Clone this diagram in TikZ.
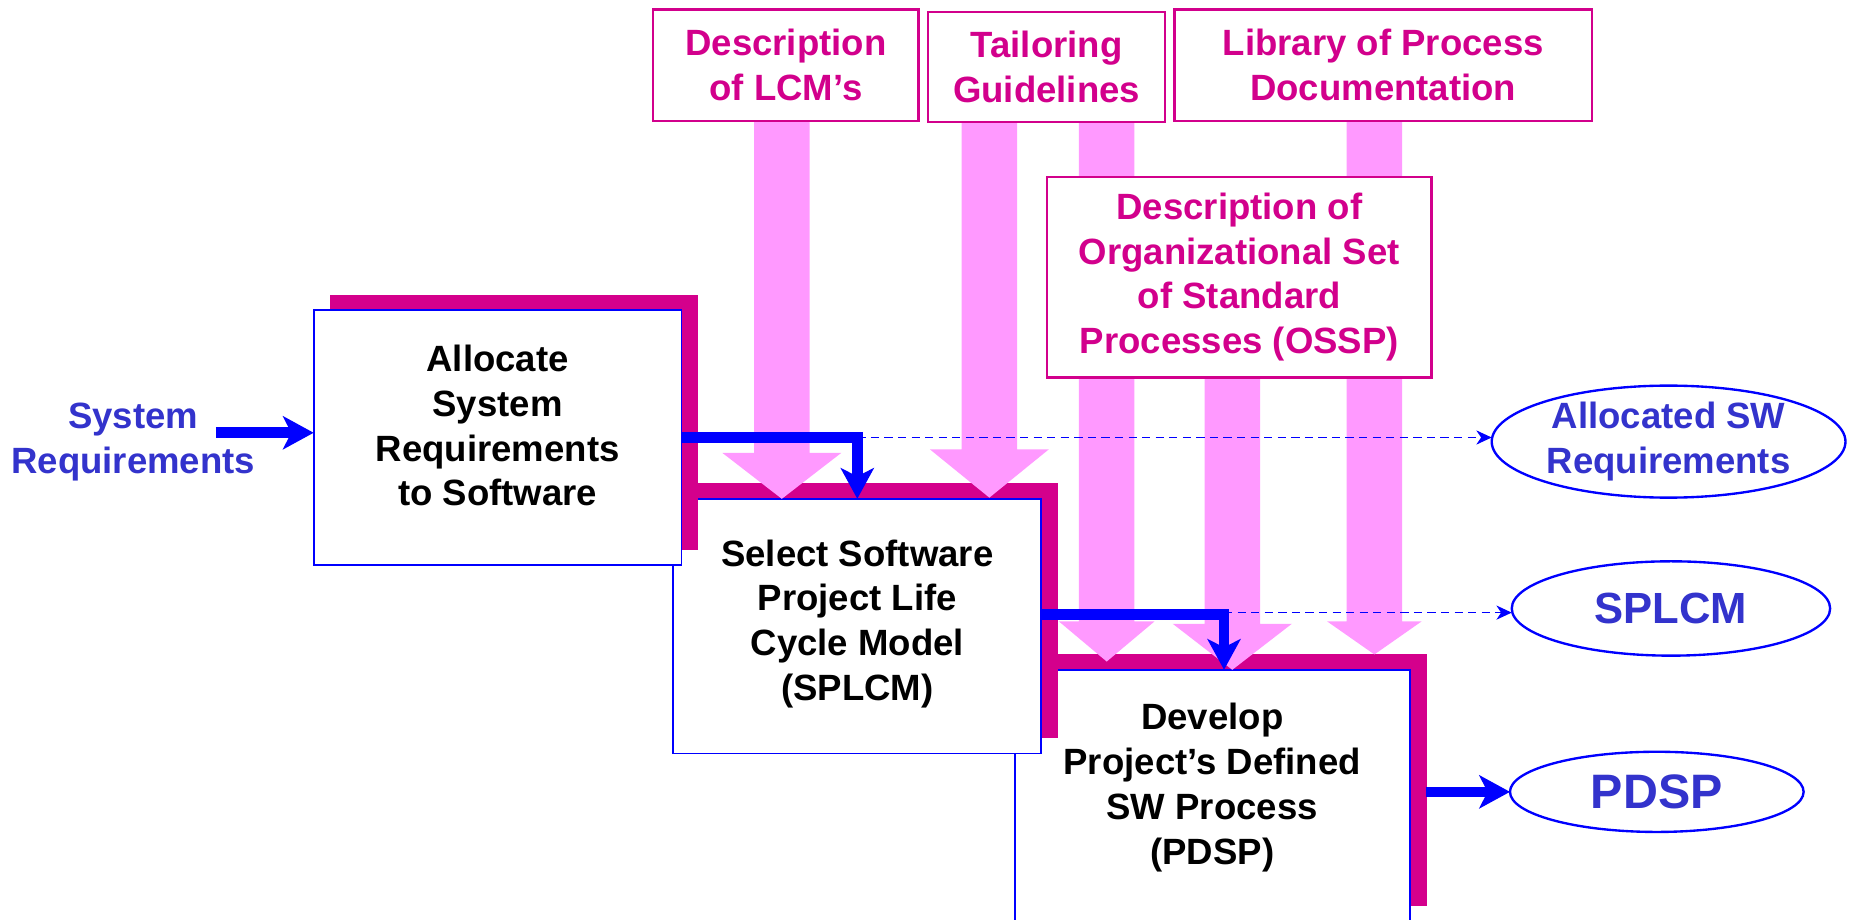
\documentclass[tikz,border=0pt]{standalone}
\usepackage{fontspec}
\setmainfont{Liberation Sans}
\usetikzlibrary{arrows.meta,shapes.geometric,calc}

\definecolor{shadowmag}{RGB}{212,0,140}
\definecolor{inkmag}{RGB}{210,0,140}
\definecolor{pinkfill}{RGB}{255,153,255}
\definecolor{lineblue}{RGB}{0,0,255}
\definecolor{textblue}{RGB}{51,51,204}

% fat pink arrow: x, top y, base of head, tip y, half width of head
\newcommand\fatarrow[5]{%
  \fill[pinkfill] (#1-23.5,#2) -- (#1+23.5,#2) -- (#1+23.5,#3) -- (#1+#5,#3)
    -- (#1,#4) -- (#1-#5,#3) -- (#1-23.5,#3) -- cycle;}

\begin{document}
\begin{tikzpicture}[x=1pt,y=-1pt,
  body/.style={font=\fontsize{31}{38}\selectfont\bfseries, align=center, inner sep=0pt},
  procbox/.style={draw=lineblue, line width=1.5pt, fill=white, inner sep=0pt,
    outer sep=0pt, minimum height=216pt},
  inputbox/.style={draw=inkmag, line width=2pt, fill=white, inner sep=0pt,
    outer sep=0pt, body, text=inkmag},
  outell/.style={ellipse, draw=lineblue, line width=2pt, fill=white, inner sep=0pt,
    outer sep=0pt, body, text=textblue},
  flow/.style={draw=lineblue, line width=9pt,
    -{Stealth[length=26pt,width=28pt,inset=7pt]}},
  dataflow/.style={draw=lineblue, line width=1.5pt, dash pattern=on 7pt off 4.5pt,
    -{Stealth[length=13pt,width=12pt,inset=4pt]}},
  boxshadow/.style={fill=shadowmag}
]
\useasboundingbox (0,0) rectangle (1568,780);

% process boxes with their offset shadows (last one drawn lies on top)
\node[procbox, minimum width=335pt, minimum height=213pt] (b3) at (1028.5,674.5) {};
\fill[boxshadow] ($(b3.south west)+(14,-13)$) rectangle ($(b3.north east)+(14,-13)$);
\node[procbox, minimum width=335pt, minimum height=213pt] at (b3) {};

\node[procbox, minimum width=312pt] (b2) at (727,531) {};
\fill[boxshadow] ($(b2.south west)+(14,-13)$) rectangle ($(b2.north east)+(14,-13)$);
\node[procbox, minimum width=312pt] at (b2) {};

\node[procbox, minimum width=312pt] (b1) at (422,371) {};
\fill[boxshadow] ($(b1.south west)+(14,-13)$) rectangle ($(b1.north east)+(14,-13)$);
\node[procbox, minimum width=312pt] at (b1) {};

\node[body] (b1t) at (422,361) {Allocate\\System\\Requirements\\to Software};
\node[body] (b2t) at (727,529) {Select Software\\Project Life\\Cycle Model\\(SPLCM)};
\node[body] (b3t) at (1028,668) {Develop\\Project’s Defined\\SW Process\\(PDSP)};

% guidance arrows
\fatarrow{663}{102.5}{384}{423}{50.5}
\fatarrow{839}{103.5}{381}{422}{50.5}
\fatarrow{938.5}{103.5}{527}{561}{40.5}
\fatarrow{1045}{320}{529}{568}{50.5}
\fatarrow{1165.5}{102.5}{527}{555}{40}

% guidance sources
\node[inputbox, minimum width=225pt, minimum height=94.5pt] (lcm) at (666.5,55.25) {Description\\of LCM’s};
\node[inputbox, minimum width=201pt, minimum height=93.5pt] (tg) at (887.5,56.75) {Tailoring\\Guidelines};
\node[inputbox, minimum width=354pt, minimum height=94.5pt] (lib) at (1173,55.25) {Library of Process\\Documentation};
\node[inputbox, minimum width=326pt, minimum height=170pt] (ossp) at (1051,235) {Description of\\Organizational Set\\of Standard\\Processes (OSSP)};

% outputs
\node[outell, minimum width=300pt, minimum height=95pt] (al) at (1415,374.5) {Allocated SW\\Requirements};
\node[outell, minimum width=270pt, minimum height=80pt,
  font=\fontsize{37}{44}\selectfont\bfseries] (sp) at (1417,516) {SPLCM};
\node[outell, minimum width=249pt, minimum height=68pt,
  font=\fontsize{41}{48}\selectfont\bfseries] (pd) at (1405,671.5) {PDSP};

% input
\node[body, text=textblue] (sr) at (113,375) {System\\Requirements};
\coordinate (srs) at (183,367);
\draw[flow] (srs) -- (srs -| b1.west);

% flows between steps
\coordinate (k1) at (727,371);
\draw[dataflow] (k1) -- (k1 -| al.west);
\draw[flow] (b1.east) -| (b2.north);

\coordinate (k2) at (1038,521);
\draw[dataflow] ($(k2)+(0,-1.5)$) -- ($(k2 -| sp.west)+(0,-1.5)$);
\draw[flow] (b2.east |- k2) -| (k2 |- b3.north);

\draw[flow] ($(b3.east |- pd.west)+(13.5,0)$) -- (pd.west);
\end{tikzpicture}
\end{document}
